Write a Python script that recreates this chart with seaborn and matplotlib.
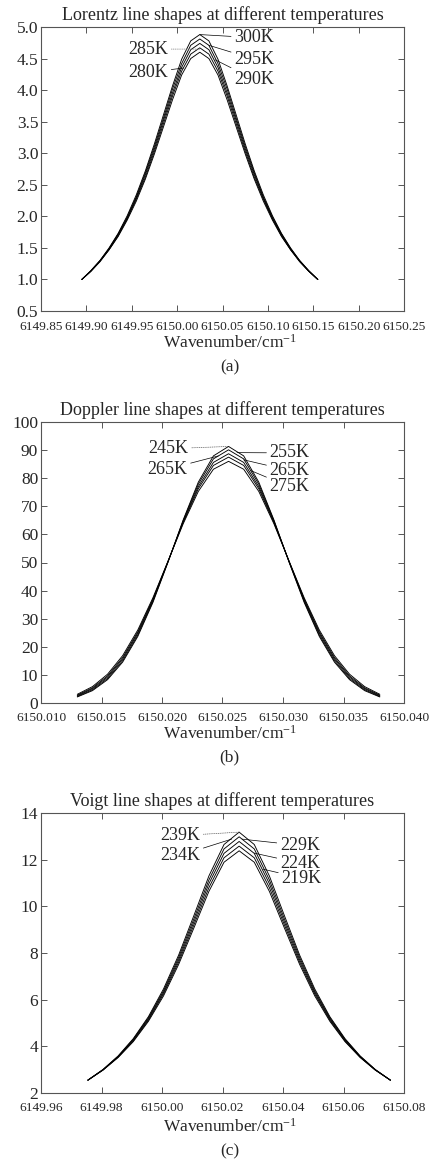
import numpy as np
import pandas as pd
import matplotlib
matplotlib.use("Agg")
import matplotlib.pyplot as plt
import seaborn as sns

# ---- data ----
# (a) Lorentz profiles
lor_x = [6149.895, 6149.905, 6149.915, 6149.925, 6149.935, 6149.945, 6149.955,
         6149.965, 6149.975, 6149.985, 6149.995, 6150.005, 6150.015, 6150.025,
         6150.035, 6150.045, 6150.055, 6150.065, 6150.075, 6150.085, 6150.095,
         6150.105, 6150.115, 6150.125, 6150.135, 6150.145, 6150.155]
lor_temps = ["300K", "295K", "290K", "285K", "280K"]
lor_300 = [1.00, 1.14, 1.30, 1.50, 1.73, 2.01, 2.34, 2.72, 3.15, 3.61, 4.07, 4.49, 4.78, 4.88,
           4.78, 4.49, 4.07, 3.61, 3.15, 2.72, 2.34, 2.01, 1.73, 1.50, 1.30, 1.14, 1.00]
lor_295 = [1.00, 1.14, 1.30, 1.49, 1.72, 1.99, 2.31, 2.69, 3.11, 3.56, 4.02, 4.42, 4.71, 4.81,
           4.71, 4.42, 4.02, 3.56, 3.11, 2.69, 2.31, 1.99, 1.72, 1.49, 1.30, 1.14, 1.00]
lor_290 = [1.00, 1.13, 1.29, 1.48, 1.71, 1.97, 2.29, 2.66, 3.07, 3.52, 3.96, 4.36, 4.64, 4.74,
           4.64, 4.36, 3.96, 3.52, 3.07, 2.66, 2.29, 1.97, 1.71, 1.48, 1.29, 1.13, 1.00]
lor_285 = [1.00, 1.13, 1.29, 1.47, 1.69, 1.96, 2.27, 2.62, 3.03, 3.47, 3.91, 4.30, 4.57, 4.67,
           4.57, 4.30, 3.91, 3.47, 3.03, 2.62, 2.27, 1.96, 1.69, 1.47, 1.29, 1.13, 1.00]
lor_280 = [1.00, 1.13, 1.28, 1.47, 1.68, 1.94, 2.24, 2.59, 2.99, 3.42, 3.85, 4.24, 4.50, 4.60,
           4.50, 4.24, 3.85, 3.42, 2.99, 2.59, 2.24, 1.94, 1.68, 1.47, 1.28, 1.13, 1.00]

# (b) Doppler profiles
dop_x = [6150.0130, 6150.01425, 6150.0155, 6150.01675, 6150.0180, 6150.01925, 6150.0205,
         6150.02175, 6150.0230, 6150.02425, 6150.0255, 6150.02675, 6150.0280, 6150.02925,
         6150.0305, 6150.03175, 6150.0330, 6150.03425, 6150.0355, 6150.03675, 6150.0380]
dop_temps = ["245K", "255K", "265K", "265K ", "275K"]
dop_245 = [2.15, 4.39, 8.30, 14.56, 23.69, 35.78, 50.13, 65.16, 78.59, 87.94, 91.3,
           87.94, 78.59, 65.16, 50.13, 35.78, 23.69, 14.56, 8.30, 4.39, 2.15]
dop_255 = [2.34, 4.69, 8.72, 15.07, 24.22, 36.19, 50.25, 64.88, 77.86, 86.87, 90.1,
           86.87, 77.86, 64.88, 50.25, 36.19, 24.22, 15.07, 8.72, 4.69, 2.34]
dop_265a = [2.58, 5.06, 9.22, 15.68, 24.83, 36.64, 50.37, 64.52, 77.00, 85.62, 88.7,
            85.62, 77.00, 64.52, 50.37, 36.64, 24.83, 15.68, 9.22, 5.06, 2.58]
dop_265b = [2.80, 5.38, 9.67, 16.20, 25.34, 37.01, 50.45, 64.19, 76.24, 84.54, 87.5,
            84.54, 76.24, 64.19, 50.45, 37.01, 25.34, 16.20, 9.67, 5.38, 2.80]
dop_275 = [3.10, 5.82, 10.25, 16.87, 25.99, 37.46, 50.53, 63.76, 75.29, 83.19, 86.0,
           83.19, 75.29, 63.76, 50.53, 37.46, 25.99, 16.87, 10.25, 5.82, 3.10]

# (c) Voigt profiles
voi_x = [6149.9755, 6149.9805, 6149.9855, 6149.9905, 6149.9955, 6150.0005, 6150.0055,
         6150.0105, 6150.0155, 6150.0205, 6150.0255, 6150.0305, 6150.0355, 6150.0405,
         6150.0455, 6150.0505, 6150.0555, 6150.0605, 6150.0655, 6150.0705, 6150.0755]
voi_temps = ["239K", "229K", "234K", "224K", "219K"]
voi_239 = [2.55, 3.01, 3.59, 4.33, 5.27, 6.46, 7.91, 9.59, 11.30, 12.65, 13.18,
           12.65, 11.30, 9.59, 7.91, 6.46, 5.27, 4.33, 3.59, 3.01, 2.55]
voi_229 = [2.55, 3.00, 3.57, 4.30, 5.22, 6.38, 7.81, 9.45, 11.13, 12.46, 12.98,
           12.46, 11.13, 9.45, 7.81, 6.38, 5.22, 4.30, 3.57, 3.00, 2.55]
voi_234 = [2.55, 2.99, 3.55, 4.27, 5.17, 6.31, 7.71, 9.32, 10.97, 12.27, 12.78,
           12.27, 10.97, 9.32, 7.71, 6.31, 5.17, 4.27, 3.55, 2.99, 2.55]
voi_224 = [2.55, 2.99, 3.54, 4.23, 5.12, 6.24, 7.61, 9.19, 10.80, 12.08, 12.58,
           12.08, 10.80, 9.19, 7.61, 6.24, 5.12, 4.23, 3.54, 2.99, 2.55]
voi_219 = [2.55, 2.98, 3.52, 4.20, 5.07, 6.16, 7.51, 9.06, 10.64, 11.89, 12.38,
           11.89, 10.64, 9.06, 7.51, 6.16, 5.07, 4.20, 3.52, 2.98, 2.55]

sns.set_style("ticks")
plt.rcParams['font.family'] = ['Liberation Serif', 'DejaVu Serif']
plt.rcParams['mathtext.default'] = 'regular'

W, H = 432, 1169
fig = plt.figure(figsize=(W / 100, H / 100), dpi=100)


def make_axes(top, bottom):
    return fig.add_axes([41 / W, 1 - bottom / H, 363 / W, (bottom - top) / H])


def long_form(x, temps, series):
    frames = [pd.DataFrame({'x': x, 'y': s, 'T': t}) for t, s in zip(temps, series)]
    return pd.concat(frames, ignore_index=True)


def style_axes(ax, title, xlim, ylim, xticks, yticks, xfmt, yfmt, xpad, label_gap):
    ax.set_xlim(*xlim)
    ax.set_ylim(*ylim)
    ax.set_xticks(xticks)
    ax.set_yticks(yticks)
    ax.set_xticklabels([xfmt.format(v) for v in xticks], fontsize=9.6)
    ax.set_yticklabels([yfmt.format(v) for v in yticks], fontsize=12.5)
    ax.tick_params(direction='in', top=True, right=True, length=4, width=0.7,
                   color='#555555')
    ax.tick_params(axis='x', pad=xpad)
    ax.tick_params(axis='y', pad=2)
    for sp in ax.spines.values():
        sp.set_visible(True)
        sp.set_color('#555555')
        sp.set_linewidth(0.8)
    ax.set_title(title, fontsize=13, pad=5)
    ax.set_xlabel('Wavenumber/cm$^{-1}$', fontsize=12.5)
    ax.set_ylabel('')
    h = ax.get_position().height * H
    ax.xaxis.set_label_coords(0.52, -label_gap / h)


def tag(ax, text, xy, xytext, ha, ls='-', col='black'):
    ax.annotate(text, xy=xy, xytext=xytext, ha=ha, va='center', fontsize=13,
                arrowprops=dict(arrowstyle='-', lw=0.5, color=col, ls=ls,
                                shrinkA=0, shrinkB=0))


pal = ['black'] * 5

# ---- (a) Lorentz ----
ax1 = make_axes(27, 311)
df1 = long_form(lor_x, lor_temps, [lor_300, lor_295, lor_290, lor_285, lor_280])
sns.lineplot(data=df1, x='x', y='y', hue='T', palette=pal, lw=0.65, legend=False, ax=ax1)
style_axes(ax1, 'Lorentz line shapes at different temperatures',
           (6149.85, 6150.25), (0.5, 5.0),
           [6149.85, 6149.90, 6149.95, 6150.00, 6150.05, 6150.10, 6150.15, 6150.20, 6150.25],
           [0.5, 1.0, 1.5, 2.0, 2.5, 3.0, 3.5, 4.0, 4.5, 5.0], '{:.2f}', '{:.1f}', 7.5, 23)
tag(ax1, '300K', (lor_x[13], lor_300[13]), (6150.063, 4.83), 'left')
tag(ax1, '295K', (lor_x[14], lor_295[14]), (6150.063, 4.49), 'left')
tag(ax1, '290K', (lor_x[15] - 0.003, lor_290[15] + 0.12), (6150.063, 4.17), 'left')
tag(ax1, '285K', (lor_x[13], lor_285[13] - 0.02), (6149.990, 4.65), 'right', ls=':', col='#777777')
tag(ax1, '280K', (lor_x[12] - 0.008, lor_280[12] - 0.15), (6149.990, 4.28), 'right')
fig.text(ax1.get_position().x0 + 0.52 * ax1.get_position().width, 1 - 367 / H, '(a)',
         ha='center', va='center', fontsize=12.5)

# ---- (b) Doppler ----
ax2 = make_axes(422, 703)
df2 = long_form(dop_x, dop_temps, [dop_245, dop_255, dop_265a, dop_265b, dop_275])
sns.lineplot(data=df2, x='x', y='y', hue='T', palette=pal, lw=0.65, legend=False, ax=ax2)
style_axes(ax2, 'Doppler line shapes at different temperatures',
           (6150.010, 6150.040), (0, 100),
           [6150.010, 6150.015, 6150.020, 6150.025, 6150.030, 6150.035, 6150.040],
           list(range(0, 101, 10)), '{:.3f}', '{:d}', 6.5, 22)
tag(ax2, '245K', (dop_x[10], dop_245[10]), (6150.0222, 90.5), 'right', ls=':', col='#555555')
tag(ax2, '255K', (dop_x[10] + 0.0007, dop_255[10] - 1.0), (6150.0289, 89.0), 'left')
tag(ax2, '265K', (dop_x[9] + 0.0004, dop_265a[9] + 2.3), (6150.0221, 83.2), 'right')
tag(ax2, '265K', (dop_x[11], dop_265b[11] + 2.0), (6150.0289, 82.7), 'left')
tag(ax2, '275K', (dop_x[11] + 0.0006, dop_275[11] - 0.5), (6150.0289, 76.9), 'left')
fig.text(ax2.get_position().x0 + 0.52 * ax2.get_position().width, 1 - 757 / H, '(b)',
         ha='center', va='center', fontsize=12.5)

# ---- (c) Voigt ----
ax3 = make_axes(813, 1093)
df3 = long_form(voi_x, voi_temps, [voi_239, voi_229, voi_234, voi_224, voi_219])
sns.lineplot(data=df3, x='x', y='y', hue='T', palette=pal, lw=0.65, legend=False, ax=ax3)
style_axes(ax3, 'Voigt line shapes at different temperatures',
           (6149.96, 6150.08), (2, 14),
           [6149.96, 6149.98, 6150.00, 6150.02, 6150.04, 6150.06, 6150.08],
           [2, 4, 6, 8, 10, 12, 14], '{:.2f}', '{:d}', 6.5, 25)
tag(ax3, '239K', (voi_x[10], voi_239[10]), (6150.0126, 13.03), 'right', ls=':', col='#555555')
tag(ax3, '229K', (voi_x[10] + 0.001, voi_229[10] - 0.1), (6150.0390, 12.61), 'left')
tag(ax3, '234K', (voi_x[10] - 0.0025, voi_234[10] + 0.1), (6150.0126, 12.18), 'right')
tag(ax3, '224K', (voi_x[11], voi_224[11] + 0.2), (6150.0390, 11.85), 'left')
tag(ax3, '219K', (voi_x[11] + 0.003, voi_219[11] - 0.3), (6150.0395, 11.21), 'left')
fig.text(ax3.get_position().x0 + 0.52 * ax3.get_position().width, 1 - 1151 / H, '(c)',
         ha='center', va='center', fontsize=12.5)

fig.savefig('out.png', dpi=100, facecolor='white')
